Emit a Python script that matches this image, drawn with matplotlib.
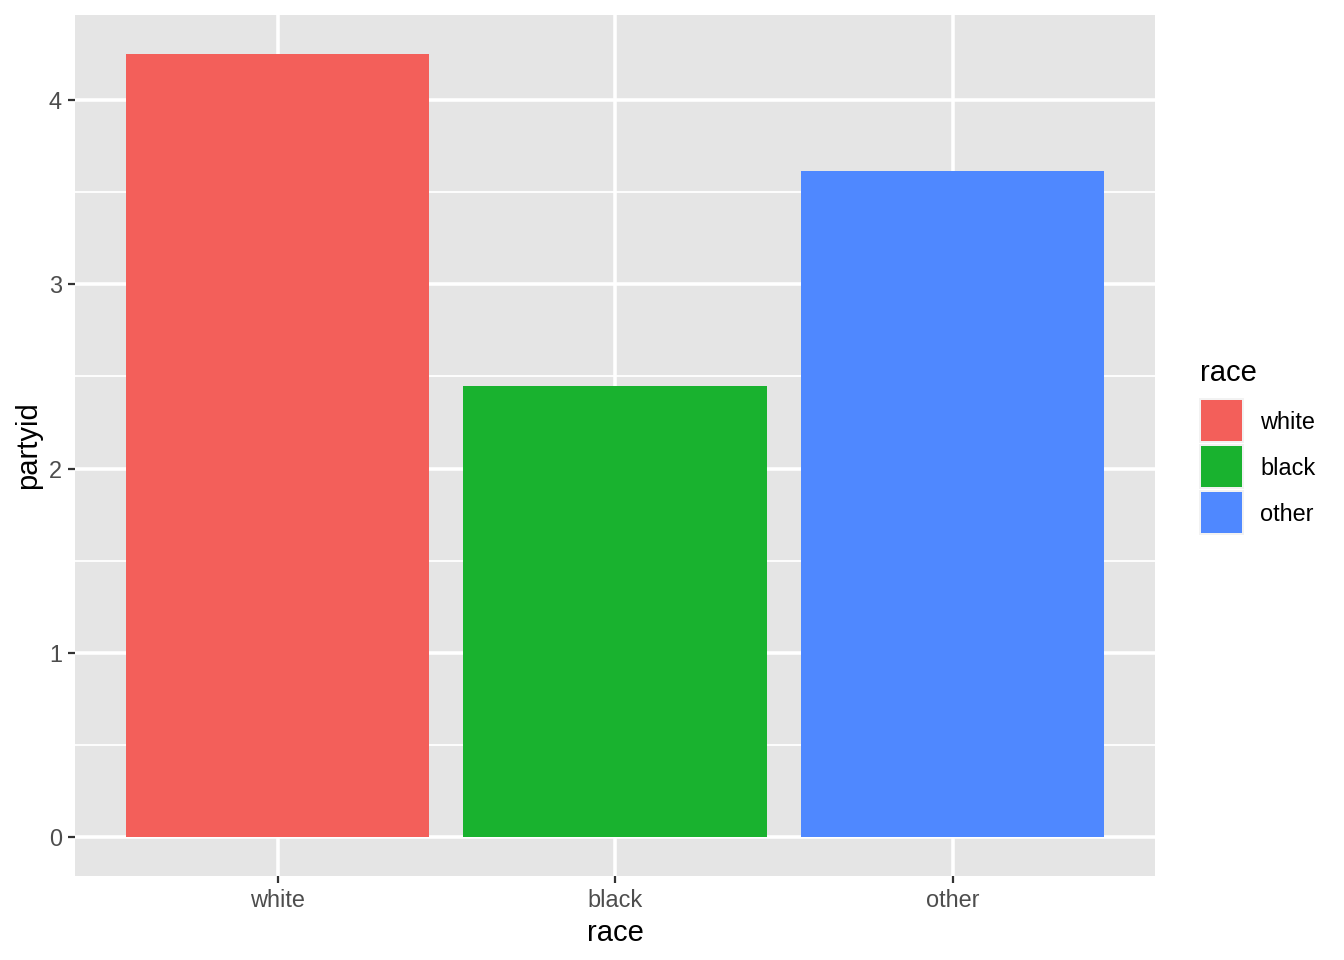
import matplotlib
matplotlib.use("Agg")
import matplotlib.pyplot as plt
from matplotlib.patches import Rectangle

# data
races = ["white", "black", "other"]
partyid = [4.25, 2.448, 3.615]
colors = ["#F35F5A", "#19B22F", "#4F88FF"]

plt.rcParams["font.family"] = ["Liberation Sans", "DejaVu Sans"]

W, H = 1344, 960
fig = plt.figure(figsize=(W / 100, H / 100), dpi=100)
ax = fig.add_axes([75 / W, 1 - 876 / H, 1080 / W, 861 / H])
ax.set_facecolor("#E5E5E5")

x = list(range(len(races)))
ax.bar(x, partyid, width=0.9, color=colors, zorder=3)

ax.set_xlim(-0.6, 2.6)
ax.set_ylim(-0.2125, 4.4625)

ax.set_yticks([0, 1, 2, 3, 4])
ax.set_yticks([0.5, 1.5, 2.5, 3.5], minor=True)
ax.set_xticks(x)
ax.set_xticklabels(races)

ax.grid(which="major", color="white", linewidth=2.6, zorder=1)
ax.grid(which="minor", axis="y", color="white", linewidth=1.3, zorder=1)

for s in ax.spines.values():
    s.set_visible(False)

ax.tick_params(axis="both", which="major", length=5.3, width=1.6, color="#333333",
               labelsize=16.9, labelcolor="#4D4D4D", pad=4)
ax.tick_params(axis="y", which="minor", length=0)

ax.set_xlabel("race", fontsize=21, labelpad=5)
ax.set_ylabel("partyid", fontsize=21, labelpad=5)

# legend built by hand (ggplot style keys)
fig.text(1200 / W, 1 - 373 / H, "race", fontsize=21, va="center", ha="left")
for i, (lab, c) in enumerate(zip(races, colors)):
    top = 398 + 46 * i
    fig.add_artist(Rectangle((1199 / W, 1 - (top + 45) / H), 45 / W, 45 / H,
                             transform=fig.transFigure, facecolor="#F2F2F2",
                             edgecolor="none"))
    fig.add_artist(Rectangle((1201 / W, 1 - (top + 43) / H), 41 / W, 41 / H,
                             transform=fig.transFigure, facecolor=c,
                             edgecolor="none"))
    fig.text(1260 / W, 1 - (top + 24.5) / H, lab, fontsize=16.9, va="center", ha="left")

fig.savefig("out.png", dpi=100)
